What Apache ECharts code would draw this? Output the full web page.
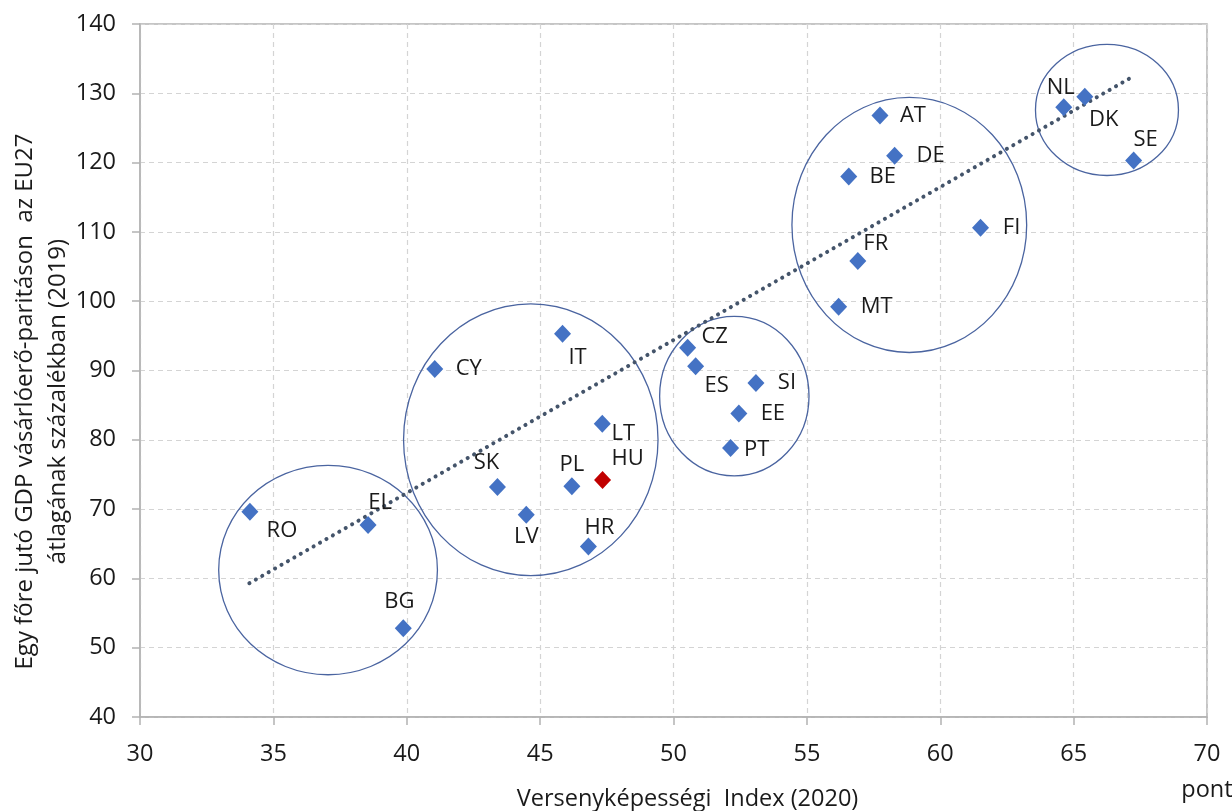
<!DOCTYPE html>
<html>
<head>
<meta charset="utf-8">
<script src="https://cdn.jsdelivr.net/npm/echarts@6/dist/echarts.min.js"></script>
<style>
  html, body { margin: 0; padding: 0; background: #fff; }
  #chart { width: 1232px; height: 811px; }
</style>
</head>
<body>
<div id="chart"></div>
<script>
	"use strict";

	/* data */
	var countries = ['RO', 'EL', 'BG', 'CY', 'IT', 'LT', 'SK', 'PL', 'HU', 'LV', 'HR', 'CZ', 'ES', 'SI', 'EE', 'PT', 'AT', 'DE', 'BE', 'FI', 'FR', 'MT', 'NL', 'DK', 'SE'];
	var indexValues = [34.12, 38.55, 39.87, 41.05, 45.84, 47.33, 43.40, 46.19, 47.34, 44.48, 46.81, 50.53, 50.83, 53.09, 52.45, 52.14, 57.74, 58.29, 56.57, 61.51, 56.91, 56.19, 64.63, 65.42, 67.25];
	var gdpValues = [69.6, 67.7, 52.8, 90.2, 95.3, 82.3, 73.2, 73.3, 74.2, 69.2, 64.6, 93.3, 90.6, 88.2, 83.8, 78.8, 126.8, 121.0, 118.0, 110.6, 105.8, 99.2, 128.0, 129.5, 120.3];
	var highlighted = 'HU';

	/* trend line end points */
	var trendX = [34.1, 67.26];
	var trendY = [59.3, 132.5];

	/* circled groups: centre and radii in axis units */
	var groupCx = [37.05, 44.65, 52.28, 58.84, 66.25];
	var groupCy = [61.2, 80.0, 86.3, 111.0, 127.6];
	var groupRx = [4.10, 4.77, 2.80, 4.40, 2.68];
	var groupRy = [15.1, 19.6, 11.5, 18.4, 9.46];

	var xTicks = { min: 30, max: 70, interval: 5 };
	var yTicks = { min: 40, max: 140, interval: 10 };

	/* label offsets (px) around each marker */
	var labelOffset = {
		RO: [32, 19], EL: [12, -22], BG: [-4, -27], CY: [34, 0], IT: [15, 24],
		LT: [21, 10], SK: [-11, -24], PL: [0, -21], HU: [25, -21], LV: [0, 22],
		HR: [11, -19], CZ: [27, -11], ES: [21, 19], SI: [31, 0], EE: [34, 0],
		PT: [26, 2], AT: [33, 0], DE: [36, 0], BE: [34, 0], FI: [31, 0],
		FR: [18, -17], MT: [38, 0], NL: [-3, -19], DK: [19, 23], SE: [12, -21]
	};

	var font = 'Open Sans';
	var textColor = '#1a1a1a';
	var axisGray = '#b3b3b3';

	var points = countries.map(function (c, i) {
		return {
			name: c,
			value: [indexValues[i], gdpValues[i]],
			itemStyle: { color: c === highlighted ? '#c00000' : '#4472c4' },
			label: { offset: labelOffset[c] }
		};
	});

	var chart = echarts.init(document.getElementById('chart'));
	var option = {
		animation: false,
		grid: {
			left: 140,
			right: 25,
			top: 24,
			bottom: 94,
			show: true,
			borderColor: axisGray,
			borderWidth: 1.5,
			outerBoundsMode: 'none'
		},
		xAxis: {
			type: 'value',
			min: xTicks.min,
			max: xTicks.max,
			interval: xTicks.interval,
			name: 'Versenyképességi  Index (2020)',
			nameLocation: 'middle',
			nameGap: 70,
			nameMoveOverlap: false,
			nameTextStyle: { fontFamily: font, fontSize: 23.5, color: textColor, padding: [0, 0, 0, 28] },
			axisLine: { show: true, lineStyle: { color: axisGray, width: 1.5 } },
			axisTick: { show: true, length: 8, lineStyle: { color: axisGray, width: 1.5 } },
			axisLabel: {
				fontFamily: font,
				fontSize: 23.5,
				color: textColor,
				margin: 19,
				lineHeight: 36,
				formatter: function (v) {
					return v === xTicks.max ? v + '\npont' : String(v);
				}
			},
			splitLine: { show: true, lineStyle: { color: '#d4d4d4', type: [5, 4], width: 1.2 } }
		},
		yAxis: {
			type: 'value',
			min: yTicks.min,
			max: yTicks.max,
			interval: yTicks.interval,
			name: 'Egy főre jutó GDP vásárlóerő-paritáson  az EU27\nátlagának százalékban (2019)',
			nameLocation: 'middle',
			nameRotate: 90,
			nameGap: 65,
			nameMoveOverlap: false,
			nameTextStyle: {
				fontFamily: font,
				fontSize: 24,
				color: textColor,
				lineHeight: 33,
				align: 'center',
				padding: [0, 62, 0, 0]
			},
			axisLine: { show: true, lineStyle: { color: axisGray, width: 1.5 } },
			axisTick: { show: true, length: 8, lineStyle: { color: axisGray, width: 1.5 } },
			axisLabel: { fontFamily: font, fontSize: 23.5, color: textColor, margin: 24 },
			splitLine: { show: true, lineStyle: { color: '#d4d4d4', type: [5, 4], width: 1.2 } }
		},
		series: [{
			type: 'line',
			data: trendX.map(function (x, i) { return [x, trendY[i]]; }),
			showSymbol: false,
			symbol: 'none',
			lineStyle: { color: '#44546a', width: 4, type: [0.1, 7.3], cap: 'round' },
			z: 2,
			silent: true
		}, {
			type: 'scatter',
			data: points,
			symbol: 'diamond',
			symbolSize: [17, 18],
			itemStyle: { opacity: 1 },
			z: 3,
			label: {
				show: true,
				position: 'inside',
				formatter: '{b}',
				fontFamily: font,
				fontSize: 22,
				color: textColor
			}
		}]
	};
	chart.setOption(option);

	/* group ellipses, placed through the axes */
	var shapes = groupCx.map(function (cx, i) {
		var c = chart.convertToPixel({ gridIndex: 0 }, [cx, groupCy[i]]);
		var e = chart.convertToPixel({ gridIndex: 0 }, [cx + groupRx[i], groupCy[i] + groupRy[i]]);
		return {
			type: 'ellipse',
			shape: { cx: c[0], cy: c[1], rx: Math.abs(e[0] - c[0]), ry: Math.abs(c[1] - e[1]) },
			style: { fill: null, stroke: '#4a64a0', lineWidth: 1.3 },
			z: 1,
			silent: true
		};
	});
	chart.setOption({ graphic: shapes });
</script>
</body>
</html>
